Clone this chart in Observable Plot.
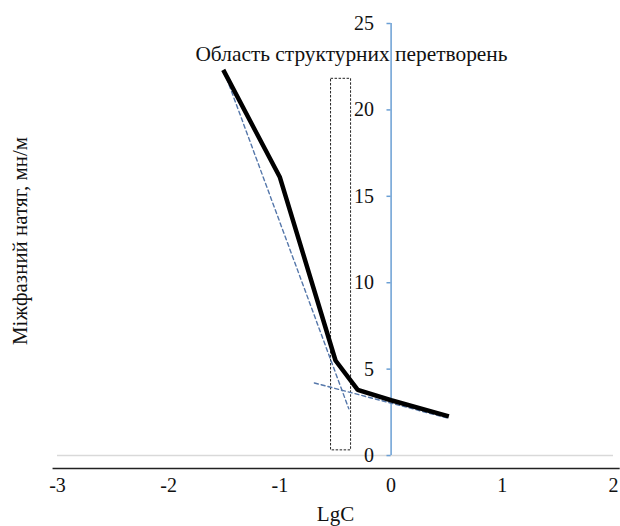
<!DOCTYPE html>
<html>
<head>
<meta charset="utf-8">
<script src="https://cdn.jsdelivr.net/npm/d3@7"></script>
<script src="https://cdn.jsdelivr.net/npm/@observablehq/plot@0.6"></script>
<style>
  html, body { margin: 0; padding: 0; background: #fff; }
</style>
</head>
<body>
<div id="chart"></div>
<script>
// Data
const lgC = [-1.5, -1, -0.5, -0.3, 0, 0.5];
const tension = [22.2, 16.1, 5.5, 3.8, 3.2, 2.3];
const steepTrendX = [-1.5, -0.38];
const steepTrendY = [22.2, 2.7];
const flatTrendX = [-0.69, 0.52];
const flatTrendY = [4.2, 2.15];
const regionX = [-0.54, -0.36];
const regionY = [0.3, 21.8];
const xTicks = [-3, -2, -1, 0, 1, 2];
const yTicks = [0, 5, 10, 15, 20, 25];
const title = "Область структурних перетворень";
const xLabel = "LgC";
const yLabel = "Міжфазний натяг, мн/м";

const yMin = -0.75;
const serif = "Liberation Serif, Times New Roman, serif";

const curve = lgC.map((x, i) => ({x, y: tension[i]}));
const steep = steepTrendX.map((x, i) => ({x, y: steepTrendY[i]}));
const flat = flatTrendX.map((x, i) => ({x, y: flatTrendY[i]}));
const region = [{x1: regionX[0], x2: regionX[1], y1: regionY[0], y2: regionY[1]}];

const chart = Plot.plot({
  width: 620,
  height: 526,
  marginLeft: 57,
  marginRight: 7,
  marginTop: 23,
  marginBottom: 58,
  x: {domain: [xTicks[0], xTicks[xTicks.length - 1]], axis: null},
  y: {domain: [yMin, yTicks[yTicks.length - 1]], axis: null},
  style: {fontFamily: serif, fontSize: "20px", color: "#000", background: "#fff", overflow: "visible"},
  marks: [
    // light horizontal line at y = 0
    Plot.ruleY([0], {stroke: "#d9d9d9", strokeWidth: 1.5}),
    // black x-axis line
    Plot.ruleY([yMin], {x1: -3.04, x2: 2.06, stroke: "#222", strokeWidth: 1.5}),
    // x tick labels
    Plot.text(xTicks, {x: d => d, y: yMin, dy: 17, text: d => String(d), fontSize: 20, fill: "#111"}),
    // x label
    Plot.text([xLabel], {frameAnchor: "bottom", dy: 52, text: d => d, fontSize: 21, fill: "#111"}),
    // y axis line (at x = 0)
    Plot.ruleX([0], {y1: 0, y2: 25, stroke: "#6a9fd4", strokeWidth: 1.5}),
    Plot.ruleY(yTicks, {y: d => d, x1: -0.037, x2: 0, stroke: "#6a9fd4", strokeWidth: 1.5}),
    Plot.text(yTicks, {x: 0, y: d => d, dx: -17, textAnchor: "end", text: d => String(d), fontSize: 20, fill: "#111"}),
    // y label
    Plot.text([yLabel], {frameAnchor: "left", textAnchor: "middle", rotate: -90, dx: -37, dy: -5, text: d => d, fontSize: 21, fill: "#111"}),
    // region box
    Plot.rect(region, {x1: "x1", x2: "x2", y1: "y1", y2: "y2", fill: "none", stroke: "#222", strokeWidth: 1, strokeDasharray: "2.5,1.5"}),
    // title
    Plot.text([title], {frameAnchor: "top", dx: 16, dy: 22, text: d => d, fontSize: 21.4, fill: "#111"}),
    // trend lines
    Plot.line(steep, {x: "x", y: "y", stroke: "#5577aa", strokeWidth: 1.4, strokeDasharray: "4,3"}),
    Plot.line(flat, {x: "x", y: "y", stroke: "#5577aa", strokeWidth: 1.4, strokeDasharray: "4,3"}),
    // main curve
    Plot.line(curve, {x: "x", y: "y", stroke: "#000", strokeWidth: 4.5, strokeLinejoin: "miter", strokeLinecap: "square"})
  ]
});
document.getElementById("chart").appendChild(chart);
</script>
</body>
</html>
